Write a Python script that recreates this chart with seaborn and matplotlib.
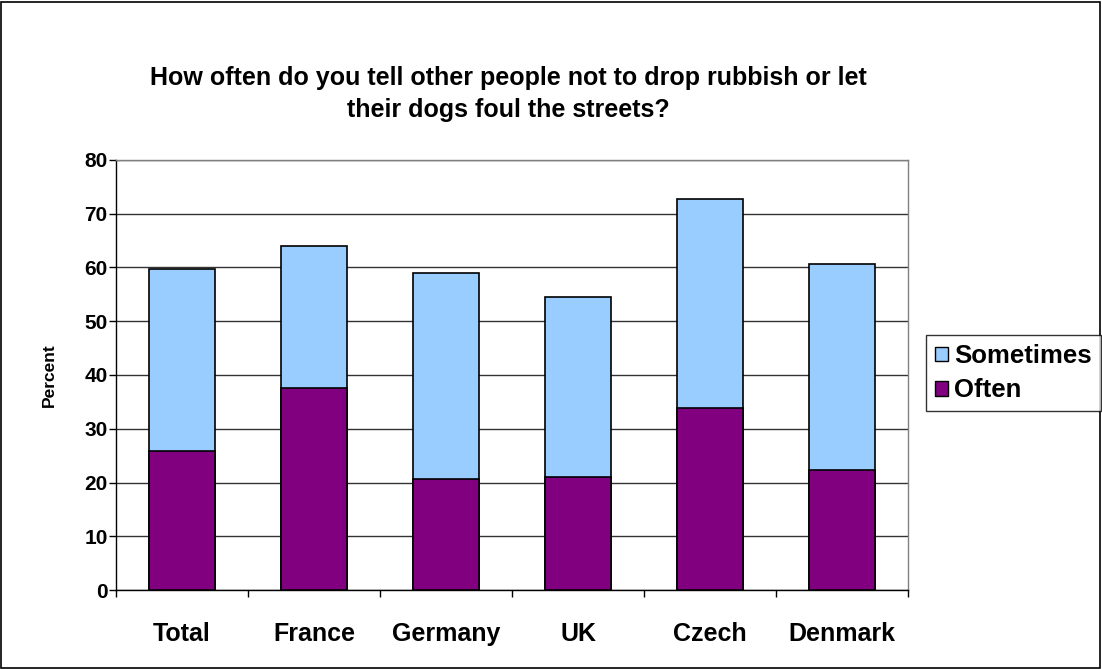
import matplotlib
matplotlib.use("Agg")
import matplotlib.pyplot as plt
import seaborn as sns
import pandas as pd
from matplotlib.patches import Patch, Rectangle

categories = ["Total", "France", "Germany", "UK", "Czech", "Denmark"]
often = [25.9, 37.5, 20.6, 21.0, 33.9, 22.3]
sometimes = [33.8, 26.4, 38.4, 33.5, 38.8, 38.3]
yticks = [0, 10, 20, 30, 40, 50, 60, 70, 80]
title = "How often do you tell other people not to drop rubbish or let\ntheir dogs foul the streets?"

sns.set_style("white")
plt.rcParams["font.family"] = ["Liberation Sans", "DejaVu Sans"]
plt.rcParams["text.color"] = "black"
plt.rcParams["axes.labelcolor"] = "black"
plt.rcParams["xtick.color"] = "black"
plt.rcParams["ytick.color"] = "black"

df = pd.DataFrame({"category": categories, "often": often, "sometimes": sometimes})
df["total"] = df["often"] + df["sometimes"]

fig = plt.figure(figsize=(11.02, 6.69), dpi=100)
ax = fig.add_axes([0.1053, 0.118, 0.7187, 0.643])

c_some = "#99CCFF"
c_often = "#800080"

sns.barplot(data=df, x="category", y="total", color=c_some, saturation=1,
            width=0.5, edgecolor="black", linewidth=1.2, ax=ax, zorder=3)
sns.barplot(data=df, x="category", y="often", color=c_often, saturation=1,
            width=0.5, edgecolor="black", linewidth=1.2, ax=ax, zorder=4)

ax.set_ylim(0, 80)
ax.set_xlim(-0.5, len(categories) - 0.5)
ax.set_yticks(yticks)
ax.set_yticklabels([str(v) for v in yticks], fontsize=15, fontweight="bold")
ax.set_xticks(range(len(categories)))
ax.set_xticklabels(categories, fontsize=18, fontweight="bold")
ax.tick_params(axis="x", length=0, pad=23)
ax.tick_params(axis="y", length=5, width=1, direction="out", color="black", pad=1, left=True)
# category separator ticks
ax.set_xticks([i - 0.5 for i in range(len(categories) + 1)], minor=True)
ax.tick_params(axis="x", which="minor", length=5, width=1, direction="out", color="black", bottom=True)

ax.yaxis.grid(True, color="#333333", linewidth=1)
ax.set_axisbelow(True)
ax.set_xlabel("")
ax.set_ylabel("Percent", fontsize=12.5, fontweight="bold", labelpad=20)

for side in ["left", "bottom"]:
    ax.spines[side].set_color("black")
    ax.spines[side].set_linewidth(1)
for side in ["top", "right"]:
    ax.spines[side].set_visible(True)
    ax.spines[side].set_color("#808080")
    ax.spines[side].set_linewidth(1)

fig.suptitle(title, x=0.461, y=0.902, fontsize=18, fontweight="bold", linespacing=1.45)

handles = [Patch(facecolor=c_some, edgecolor="black", label="Sometimes"),
           Patch(facecolor=c_often, edgecolor="black", label="Often")]
leg = fig.legend(handles=handles, loc="upper left", bbox_to_anchor=(0.8403, 0.499),
                 prop={"weight": "bold", "size": 18.5}, frameon=True, borderaxespad=0,
                 fancybox=False, edgecolor="black", handlelength=0.5, handleheight=0.5,
                 handletextpad=0.25, borderpad=0.35, labelspacing=0.4)
leg.get_frame().set_linewidth(1)

fig.patches.append(Rectangle((0.001, 0.0015), 0.997, 0.996, transform=fig.transFigure,
                             fill=False, edgecolor="black", linewidth=1.2))

fig.savefig("out.png", dpi=100)
